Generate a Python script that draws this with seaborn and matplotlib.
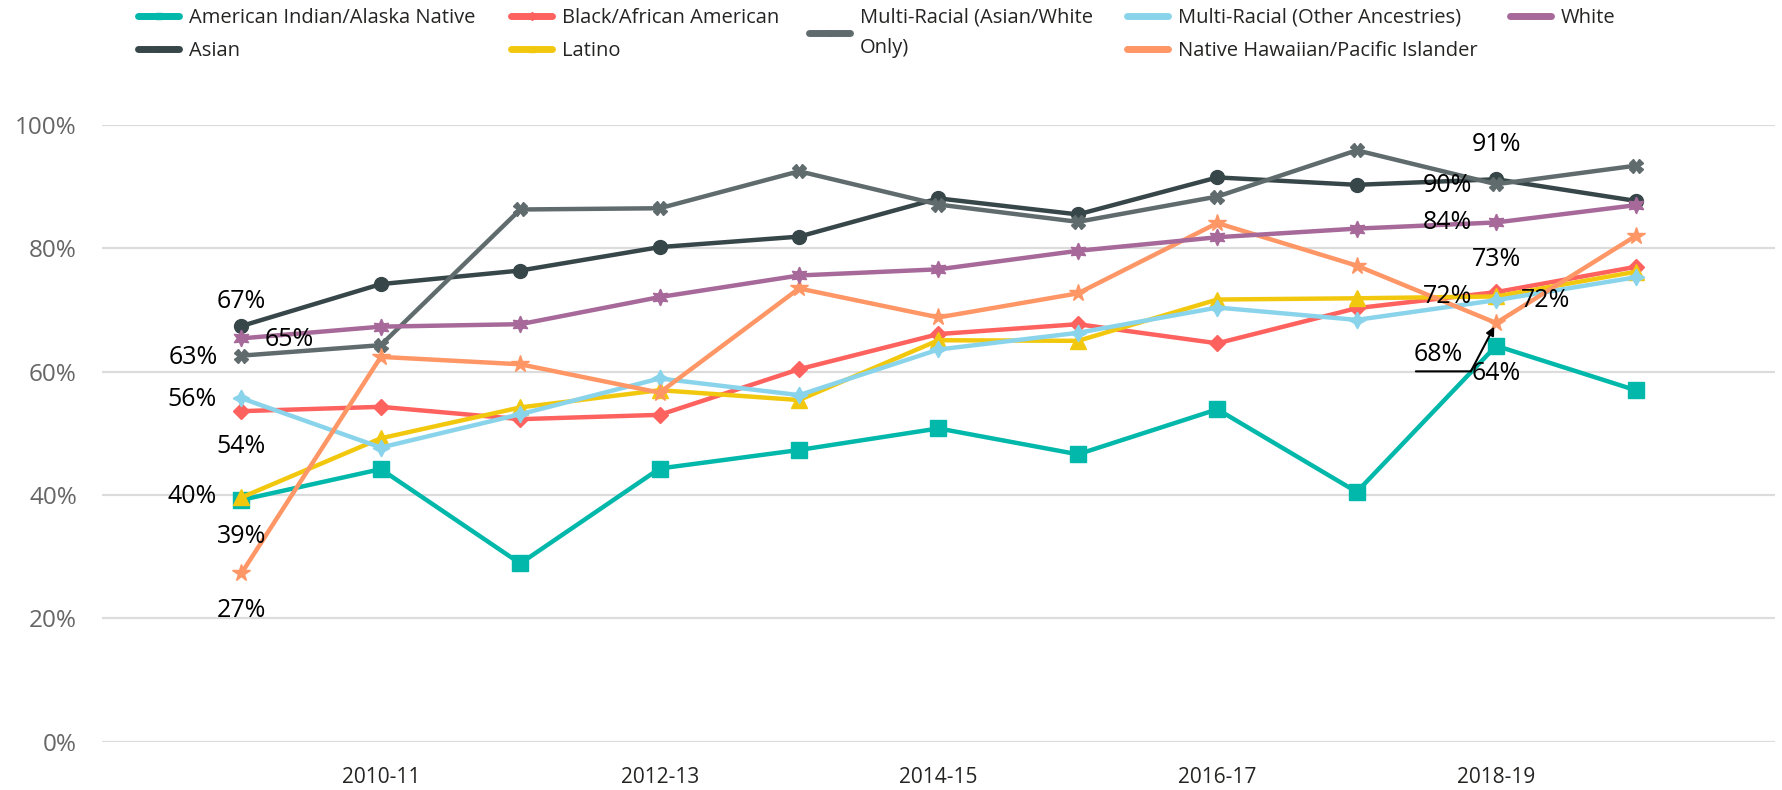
import numpy as np
import pandas as pd
import matplotlib
matplotlib.use("Agg")
import matplotlib.pyplot as plt
import seaborn as sns
from matplotlib.lines import Line2D
from matplotlib.ticker import FuncFormatter
from matplotlib.transforms import offset_copy

# ---------------- data ----------------
years = ["2009-10", "2010-11", "2011-12", "2012-13", "2013-14", "2014-15",
         "2015-16", "2016-17", "2017-18", "2018-19", "2019-20"]
tick_years = ["2010-11", "2012-13", "2014-15", "2016-17", "2018-19"]

aian     = [39.2, 44.2, 28.9, 44.3, 47.3, 50.8, 46.6, 53.9, 40.5, 64.2, 57.0]
asian    = [67.4, 74.2, 76.4, 80.2, 81.9, 88.1, 85.5, 91.5, 90.3, 91.2, 87.7]
black    = [53.6, 54.3, 52.3, 53.0, 60.4, 66.1, 67.7, 64.6, 70.3, 72.9, 77.0]
latino   = [39.6, 49.2, 54.2, 57.0, 55.4, 65.1, 65.0, 71.7, 71.9, 72.2, 76.2]
mr_aw    = [62.6, 64.3, 86.3, 86.5, 92.5, 87.1, 84.3, 88.4, 95.9, 90.4, 93.4]
mr_other = [55.7, 47.7, 53.1, 58.9, 56.2, 63.6, 66.3, 70.4, 68.4, 71.6, 75.3]
nhpi     = [27.3, 62.4, 61.2, 56.6, 73.5, 68.8, 72.7, 84.1, 77.2, 67.9, 82.0]
white    = [65.4, 67.3, 67.7, 72.1, 75.6, 76.6, 79.6, 81.8, 83.2, 84.2, 87.0]

series_names = ["American Indian/Alaska Native", "Asian", "Black/African American",
                "Latino", "Multi-Racial (Asian/White Only)",
                "Multi-Racial (Other Ancestries)", "Native Hawaiian/Pacific Islander",
                "White"]
series_vals = [aian, asian, black, latino, mr_aw, mr_other, nhpi, white]

colors = ["#01B8AA", "#374649", "#FD625E", "#F2C80F", "#5F6B6D", "#8AD4EB",
          "#FE9666", "#A66999"]
markers = ["s", "o", "D", "^", "X", (4, 1, 0), "*", (6, 1, 0)]
msizes = [11, 10, 8, 11, 10, 12, 13, 12]

# ---------------- style ----------------
sns.set_theme(style="white")
plt.rcParams["font.family"] = ["Open Sans", "DejaVu Sans"]

DPI = 100
fig = plt.figure(figsize=(17.82, 7.90), dpi=DPI)
ax = fig.add_axes([102 / 1782, (790 - 741.7) / 790, (1775 - 102) / 1782, (741.7 - 125) / 790])

xs = np.arange(len(years))
for name, vals, c, m, ms in zip(series_names, series_vals, colors, markers, msizes):
    df = pd.DataFrame({"x": xs, "y": vals})
    sns.lineplot(data=df, x="x", y="y", ax=ax, color=c, marker=m, markersize=ms,
                 markeredgecolor=c, markeredgewidth=1, linewidth=3.2, legend=False,
                 clip_on=False)

ax.set_xlim(-1, 11)
ax.set_ylim(0, 100)
ax.set_yticks([0, 20, 40, 60, 80, 100])
ax.yaxis.set_major_formatter(FuncFormatter(lambda v, p: f"{v:.0f}%"))
ax.set_xticks([years.index(t) for t in tick_years])
ax.set_xticklabels(tick_years)
ax.set_xlabel("")
ax.set_ylabel("")
ax.grid(axis="y", color="#DCDCDC", linewidth=1.6)
ax.grid(axis="x", visible=False)
ax.set_axisbelow(True)
for s in ax.spines.values():
    s.set_visible(False)
ax.tick_params(axis="y", length=0, pad=18, labelsize=17.5, labelcolor="#666666")
ax.tick_params(axis="x", length=0, pad=18, labelsize=15, labelcolor="#252423")

# ---------------- data labels ----------------
PX = 72 / DPI
lab0 = {  # 2009-10 offsets in pixels (dx, dy up)
    "American Indian/Alaska Native": (0, -36.7),
    "Asian": (0, 24.4),
    "Black/African American": (0, -35.6),
    "Latino": (-49, 1),
    "Multi-Racial (Asian/White Only)": (-48, -1.4),
    "Multi-Racial (Other Ancestries)": (-49, -1.8),
    "Native Hawaiian/Pacific Islander": (0, -36.7),
    "White": (48, -1.6),
}
lab9 = {  # 2018-19
    "American Indian/Alaska Native": (0, -27.5),
    "Asian": (0, 35),
    "Black/African American": (0, 33),
    "Latino": (-49, -0.3),
    "Multi-Racial (Asian/White Only)": (-49, -0.8),
    "Multi-Racial (Other Ancestries)": (49, 0),
    "Native Hawaiian/Pacific Islander": (-58, -32),
    "White": (-49, -0.3),
}
for name, vals in zip(series_names, series_vals):
    for idx, table in ((0, lab0), (9, lab9)):
        dx, dy = table[name]
        ax.annotate(f"{vals[idx]:.0f}%", xy=(idx, vals[idx]), xytext=(dx * PX, dy * PX),
                    textcoords="offset points", ha="center", va="center",
                    fontsize=18, color="black")

# leader line for NHPI 2018-19 label
v = nhpi[9]
t_start = offset_copy(ax.transData, fig=fig, x=-80.3, y=-48.4, units="dots")
t_knee = offset_copy(ax.transData, fig=fig, x=-25.3, y=-48.4, units="dots")
ax.annotate("", xy=(9, v), xycoords=t_knee, xytext=(9, v), textcoords=t_start,
            arrowprops=dict(arrowstyle="-", color="black", lw=1.5, shrinkA=0, shrinkB=0))
ax.annotate("", xy=(9, v), xycoords="data", xytext=(9, v), textcoords=t_knee,
            arrowprops=dict(arrowstyle="-|>", color="black", lw=1.5, shrinkA=0, shrinkB=3,
                            mutation_scale=12))

# ---------------- legend (5 columns) ----------------
def handle(i):
    return Line2D([], [], color=colors[i], lw=5, marker=markers[i], markersize=4,
                  markeredgecolor=colors[i])

columns = [
    (138, [0, 1]),
    (511, [2, 3]),
    (809, [4]),
    (1127, [5, 6]),
    (1510, [7]),
]
for xpix, idxs in columns:
    labels = []
    for i in idxs:
        lab = series_names[i]
        if i == 4:
            lab = "Multi-Racial (Asian/White\nOnly)"
        labels.append(lab)
    leg = fig.legend([handle(i) for i in idxs], labels, loc="upper left",
                     bbox_to_anchor=(xpix / 1782, 1 - 8 / 790), frameon=False,
                     fontsize=14.5, handlelength=2.04, handletextpad=0.5,
                     labelspacing=0.65, borderpad=0, borderaxespad=0)
    for t in leg.get_texts():
        t.set_color("#252423")
        t.set_linespacing(1.67)

fig.savefig("out.png", dpi=DPI)
